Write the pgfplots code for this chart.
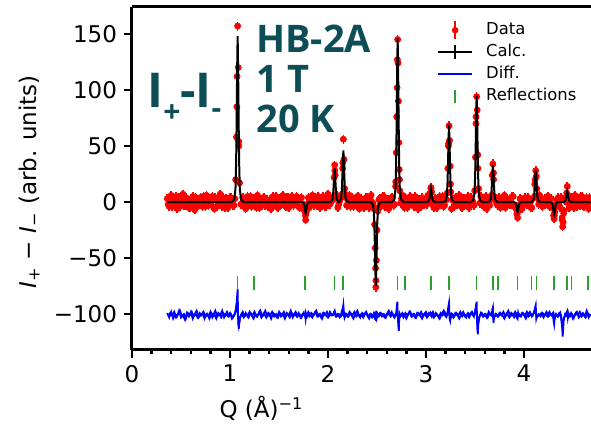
\documentclass[border=0pt]{standalone}
\usepackage{fontspec}
\setmainfont{DejaVu Sans}
\newfontfamily\titlefont{Open Sans}
\usepackage{pgfplots}
\pgfplotsset{compat=1.18}
\usepackage{pgfplotstable}
\definecolor{titleteal}{HTML}{0D4D56}
\definecolor{refgreen}{HTML}{2CA02C}

\pgfplotstableread{
Q obs diff
0.36 3 -99
0.38 -4 -103
0.40 6 -98
0.42 -2 -104
0.44 1 -100
0.46 -6 -102
0.48 4 -97
0.50 -1 -103
0.52 7 -101
0.54 -3 -105
0.56 0 -99
0.58 -5 -102
0.60 2 -98
0.62 5 -104
0.64 -7 -100
0.66 3 -97
0.68 -2 -103
0.70 4 -101
0.72 -4 -99
0.74 1 -104
0.76 6 -100
0.78 -3 -102
0.80 -1 -98
0.82 5 -103
0.84 -6 -100
0.86 2 -104
0.88 -2 -99
0.90 7 -101
0.92 -4 -97
0.94 0 -103
0.96 3 -100
0.98 -5 -102
1.00 4 -99
1.02 -1 -104
1.04 -3 -101
1.058 20 -98
1.066 58 -92
1.072 112 -85
1.078 157 -78
1.084 120 -108
1.090 54 -113
1.098 17 -104
1.12 -2 -100
1.14 2 -103
1.16 -6 -99
1.18 5 -102
1.20 1 -98
1.22 -4 -101
1.24 3 -104
1.26 -2 -100
1.28 6 -102
1.30 -5 -98
1.32 0 -103
1.34 4 -100
1.36 -3 -97
1.38 2 -102
1.40 -1 -100
1.42 -6 -104
1.44 5 -99
1.46 3 -101
1.48 -4 -103
1.50 1 -98
1.52 -2 -102
1.54 6 -100
1.56 -3 -104
1.58 4 -99
1.60 -5 -101
1.62 0 -97
1.64 2 -103
1.66 -1 -100
1.68 5 -102
1.70 -4 -99
1.72 3 -103
1.74 -6 -100
1.760 -3 -101
1.766 -9 -99
1.772 -16 -104
1.778 -10 -100
1.786 -2 -102
1.80 4 -98
1.82 -2 -101
1.84 6 -103
1.86 -3 -100
1.88 -1 -97
1.90 5 -102
1.92 -5 -100
1.94 2 -104
1.96 0 -99
1.98 -4 -101
2.00 7 -103
2.02 -2 -98
2.04 3 -101
2.056 4 -100
2.062 22 -98
2.068 33 -97
2.074 24 -101
2.080 6 -102
2.10 -5 -100
2.12 1 -103
2.145 7 -101
2.151 35 -96
2.157 56 -92
2.163 38 -99
2.169 8 -103
2.18 4 -100
2.20 -3 -102
2.22 6 -98
2.24 -1 -101
2.26 -4 -104
2.28 2 -100
2.30 5 -97
2.32 -6 -102
2.34 3 -100
2.36 -2 -103
2.38 0 -99
2.40 4 -101
2.42 -5 -104
2.44 6 -100
2.46 -1 -102
2.470 -6 -99
2.476 -20 -100
2.482 -41 -105
2.486 -59 -98
2.488 -76 -101
2.490 -70 -106
2.494 -52 -97
2.500 -25 -103
2.508 -8 -100
2.52 2 -102
2.54 -3 -99
2.56 5 -101
2.58 -4 -103
2.60 1 -100
2.62 -6 -97
2.64 3 -102
2.66 4 -100
2.68 -2 -103
2.691 18 -101
2.697 44 -98
2.701 76 -95
2.705 102 -91
2.708 127 -89
2.711 145 -99
2.715 124 -106
2.719 90 -112
2.723 53 -115
2.727 29 -104
2.733 10 -100
2.74 -1 -102
2.76 6 -99
2.78 -5 -101
2.80 2 -104
2.82 -3 -100
2.84 5 -98
2.86 0 -102
2.88 -4 -100
2.90 3 -103
2.92 -6 -99
2.94 1 -101
2.96 4 -104
2.98 -2 -100
3.00 -1 -98
3.02 6 -102
3.039 2 -100
3.045 8 -99
3.051 13 -101
3.057 9 -102
3.063 1 -100
3.08 -5 -103
3.10 2 -99
3.12 -3 -101
3.14 5 -104
3.16 0 -100
3.18 -4 -97
3.20 3 -102
3.217 8 -101
3.223 30 -97
3.229 50 -93
3.235 68 -90
3.241 55 -104
3.247 32 -106
3.253 9 -102
3.26 -6 -100
3.28 1 -103
3.30 4 -99
3.32 -2 -101
3.34 6 -104
3.36 -4 -100
3.38 3 -98
3.40 -1 -102
3.42 2 -100
3.44 -5 -103
3.46 4 -99
3.48 0 -101
3.497 10 -100
3.505 40 -96
3.511 76 -92
3.517 94 -89
3.523 82 -112
3.529 42 -118
3.537 12 -104
3.56 5 -99
3.58 -2 -102
3.60 1 -100
3.62 -6 -103
3.64 3 -98
3.66 2 -101
3.671 6 -101
3.677 24 -96
3.683 34 -94
3.689 26 -108
3.695 5 -103
3.72 -1 -100
3.74 4 -102
3.76 -5 -99
3.78 0 -101
3.80 6 -104
3.82 -3 -100
3.84 1 -97
3.86 -2 -102
3.88 5 -100
3.90 -4 -103
3.923 -4 -100
3.929 -10 -103
3.935 -14 -104
3.941 -8 -99
3.947 -3 -101
3.96 3 -102
3.98 -6 -99
4.00 2 -101
4.02 0 -104
4.04 4 -100
4.06 -1 -98
4.08 -5 -102
4.108 5 -98
4.114 20 -94
4.120 28 -92
4.126 23 -104
4.132 4 -102
4.16 6 -101
4.18 -3 -99
4.20 1 -103
4.22 -2 -100
4.24 5 -102
4.26 -4 -98
4.28 3 -101
4.296 -5 -99
4.302 -12 -106
4.308 -15 -109
4.314 -9 -103
4.320 -2 -100
4.34 2 -102
4.36 -3 -99
4.38 4 -101
4.390 -14 -112
4.395 -22 -120
4.400 -18 -114
4.405 -10 -105
4.42 1 -100
4.430 2 -101
4.436 8 -98
4.442 14 -97
4.448 6 -103
4.454 -1 -100
4.46 -5 -102
4.48 3 -99
4.50 -2 -104
4.52 6 -100
4.54 -4 -98
4.56 1 -103
4.58 5 -101
4.60 -3 -99
4.62 0 -102
4.64 4 -97
4.66 -6 -103
4.68 2 -100
}\obsdata

\pgfplotstableread{
Q obs diff
0.37 -2 -102
0.39 4 -99
0.41 -4 -101
0.43 2 -98
0.45 5 -103
0.47 -2 -100
0.49 -4 -97
0.51 2 -102
0.53 -3 -100
0.55 4 -104
0.57 1 -99
0.59 -5 -101
0.61 3 -98
0.63 -1 -102
0.65 4 -100
0.67 -4 -103
0.69 2 -99
0.71 -2 -101
0.73 5 -98
0.75 -4 -102
0.77 0 -100
0.79 3 -104
0.81 -3 -99
0.83 2 -101
0.85 4 -97
0.87 -4 -102
0.89 1 -100
0.91 -2 -103
0.93 4 -99
0.95 -5 -101
0.97 2 -98
0.99 -1 -102
1.01 4 -100
1.03 -3 -103
1.05 3 -100
1.07 85 -90
1.09 50 -110
1.11 -2 -101
1.13 4 -98
1.15 -1 -102
1.17 -4 -100
1.19 2 -103
1.21 5 -99
1.23 -2 -101
1.25 1 -98
1.27 -5 -102
1.29 3 -100
1.31 2 -97
1.33 -3 -102
1.35 4 -100
1.37 -1 -103
1.39 -4 -99
1.41 2 -101
1.43 1 -98
1.45 -2 -102
1.47 5 -100
1.49 -5 -103
1.51 3 -99
1.53 -1 -101
1.55 2 -98
1.57 -4 -102
1.59 4 -100
1.61 -2 -103
1.63 5 -99
1.65 -3 -101
1.67 0 -98
1.69 2 -102
1.71 -5 -100
1.73 4 -103
1.75 -3 -99
1.77 -12 -103
1.79 -4 -100
1.81 -5 -102
1.83 2 -99
1.85 -1 -101
1.87 4 -98
1.89 -3 -102
1.91 2 -100
1.93 -2 -103
1.95 5 -99
1.97 -4 -101
1.99 1 -98
2.01 -2 -102
2.03 3 -100
2.05 2 -101
2.07 28 -98
2.09 6 -102
2.11 -2 -100
2.13 4 -101
2.15 30 -95
2.17 12 -103
2.19 -3 -100
2.21 2 -102
2.23 -4 -99
2.25 4 -101
2.27 0 -98
2.29 -2 -102
2.31 5 -100
2.33 -2 -103
2.35 1 -99
2.37 -5 -101
2.39 4 -98
2.41 -1 -102
2.43 2 -100
2.45 -3 -103
2.47 -5 -100
2.51 -5 -101
2.53 3 -99
2.55 -2 -102
2.57 5 -100
2.59 -4 -103
2.61 2 -99
2.63 -1 -101
2.65 4 -98
2.67 -3 -102
2.69 14 -100
2.73 20 -102
2.75 3 -100
2.77 -2 -103
2.79 4 -99
2.81 -5 -101
2.83 1 -98
2.85 3 -102
2.87 -2 -100
2.89 5 -103
2.91 -3 -99
2.93 2 -101
2.95 -4 -98
2.97 2 -102
2.99 0 -100
3.01 -2 -103
3.03 4 -99
3.05 12 -101
3.07 -2 -98
3.09 3 -102
3.11 -5 -100
3.13 1 -103
3.15 -2 -99
3.17 5 -101
3.19 -3 -98
3.21 2 -102
3.23 52 -95
3.25 16 -104
3.27 2 -100
3.29 -4 -102
3.31 4 -99
3.33 -1 -101
3.35 2 -98
3.37 -5 -102
3.39 3 -100
3.41 -2 -103
3.43 5 -99
3.45 -2 -101
3.47 1 -98
3.49 -3 -102
3.51 70 -94
3.53 30 -110
3.55 -1 -101
3.57 2 -99
3.59 -4 -102
3.61 5 -100
3.63 -2 -103
3.65 -3 -99
3.67 4 -101
3.69 20 -104
3.71 2 -100
3.73 -3 -102
3.75 4 -99
3.77 -2 -101
3.79 2 -98
3.81 -5 -102
3.83 3 -100
3.85 0 -103
3.87 -2 -99
3.89 5 -101
3.91 -4 -98
3.93 -11 -103
3.95 -4 -100
3.97 2 -102
3.99 -3 -99
4.01 4 -101
4.03 -2 -98
4.05 1 -102
4.07 -5 -100
4.09 3 -101
4.11 16 -96
4.13 12 -103
4.15 -2 -100
4.17 2 -102
4.19 -4 -99
4.21 3 -101
4.23 -1 -98
4.25 5 -102
4.27 -4 -100
4.29 -4 -101
4.31 -12 -105
4.33 -3 -100
4.35 4 -102
4.37 -5 -99
4.39 -16 -110
4.41 -8 -103
4.43 1 -100
4.45 6 -99
4.47 -4 -102
4.49 4 -100
4.51 -5 -103
4.53 2 -99
4.55 3 -101
4.57 -3 -98
4.59 5 -102
4.61 -4 -100
4.63 2 -103
4.65 -2 -99
4.67 4 -101
}\obsdatab

\pgfplotstableread{
Q calc
0.36 0
1.018 0
1.043 2.2
1.056 11.8
1.063 37
1.068 74
1.073 118.4
1.078 148
1.083 118.4
1.088 74
1.093 37
1.100 11.8
1.113 2.2
1.138 0
1.712 0
1.737 -0.15
1.750 -0.8
1.757 -2.5
1.762 -5
1.767 -8
1.772 -10
1.777 -8
1.782 -5
1.787 -2.5
1.794 -0.8
1.807 -0.15
1.832 0
2.008 0
2.033 0.45
2.046 2.4
2.053 7.5
2.058 15
2.063 24
2.068 30
2.073 24
2.078 15
2.083 7.5
2.090 2.4
2.103 0.45
2.112 0
2.122 0.69
2.135 3.7
2.142 11.5
2.147 23
2.152 36.8
2.157 46
2.162 36.8
2.167 23
2.172 11.5
2.179 3.7
2.192 0.69
2.217 0
2.428 0
2.453 -1.1
2.466 -6
2.473 -18.8
2.478 -37.5
2.483 -60
2.488 -75
2.493 -60
2.498 -37.5
2.503 -18.8
2.510 -6
2.523 -1.1
2.548 0
2.651 0
2.676 2.2
2.689 11.7
2.696 36.5
2.701 73
2.706 116.8
2.711 146
2.716 116.8
2.721 73
2.726 36.5
2.733 11.7
2.746 2.2
2.771 0
2.991 0
3.016 0.18
3.029 1
3.036 3
3.041 6
3.046 9.6
3.051 12
3.056 9.6
3.061 6
3.066 3
3.073 1
3.086 0.18
3.111 0
3.175 0
3.200 1
3.213 5.5
3.220 17.3
3.225 34.5
3.230 55.2
3.235 69
3.240 55.2
3.245 34.5
3.250 17.3
3.257 5.5
3.270 1
3.295 0
3.457 0
3.482 1.4
3.495 7.6
3.502 23.8
3.507 47.5
3.512 76
3.517 95
3.522 76
3.527 47.5
3.532 23.8
3.539 7.6
3.552 1.4
3.577 0
3.623 0
3.648 0.5
3.661 2.6
3.668 8.3
3.673 16.5
3.678 26.4
3.683 33
3.688 26.4
3.693 16.5
3.698 8.3
3.705 2.6
3.718 0.5
3.743 0
3.875 0
3.900 -0.14
3.913 -0.7
3.920 -2.3
3.925 -4.5
3.930 -7.2
3.935 -9
3.940 -7.2
3.945 -4.5
3.950 -2.3
3.957 -0.7
3.970 -0.14
3.995 0
4.060 0
4.085 0.4
4.098 2.2
4.105 7
4.110 14
4.115 22.4
4.120 28
4.125 22.4
4.130 14
4.135 7
4.142 2.2
4.155 0.4
4.180 0
4.248 0
4.273 -0.2
4.286 -0.9
4.293 -2.8
4.298 -5.5
4.303 -8.8
4.308 -11
4.313 -8.8
4.318 -5.5
4.323 -2.8
4.330 -0.9
4.343 -0.2
4.368 0
4.382 0
4.407 0.15
4.420 0.8
4.427 2.5
4.432 5
4.437 8
4.442 10
4.447 8
4.452 5
4.457 2.5
4.464 0.8
4.477 0.15
4.502 0
4.68 0
}\calcdata

\pgfplotstableread{
Q y
1.078 -72
1.245 -72
1.765 -72
2.065 -72
2.156 -72
2.490 -72
2.711 -72
2.786 -72
3.051 -72
3.235 -72
3.517 -72
3.687 -72
3.738 -72
3.935 -72
4.078 -72
4.129 -72
4.306 -72
4.442 -72
4.486 -72
4.656 -72
}\refldata

\begin{document}
\begin{tikzpicture}
\useasboundingbox (0,0) rectangle (295.5pt,213pt);
\begin{axis}[
  at={(66pt,38pt)}, anchor=south west,
  scale only axis, width=229.5pt, height=171.5pt,
  xmin=0, xmax=4.684, ymin=-132, ymax=174,
  axis x line=box, axis y line=left,
  axis line style={-, line width=1.5pt, black},
  xtick pos=bottom, ytick pos=left,
  xtick={0,1,2,3,4}, minor x tick num=4,
  ytick={-100,-50,0,50,100,150},
  yticklabels={−100,−50,0,50,100,150},
  xticklabels={0,1,2,3,4},
  tick align=outside,
  major tick length=4pt, minor tick length=2.2pt,
  every tick/.style={line width=1.2pt, black},
  tick label style={font=\fontsize{11.5}{13}\selectfont},
  every axis y label/.style={at={(axis description cs:-0.224,0.49)}, rotate=90, anchor=center},
  every axis x label/.style={at={(axis description cs:0.282,0)}, yshift=-34pt, anchor=base},
  label style={font=\fontsize{11.5}{13}\selectfont},
  ylabel={\textit{I}\textsubscript{+} − \textit{I}\textsubscript{−} (arb. units)},
  xlabel={Q (Å)\textsuperscript{−1}},
  clip mode=individual,
  legend style={draw=none, fill=none, at={(axis cs:3.11,163)}, anchor=north west,
    font=\fontsize{8.2}{9.5}\selectfont, row sep=0.3pt, inner sep=0pt,
    nodes={inner sep=1.5pt}},
  legend cell align=left,
]
\addlegendimage{legend image code/.code={\path[draw=none] (0pt,0pt) -- (22.5pt,0pt); \draw[red,line width=0.9pt] (8.5pt,-4.5pt)--(8.5pt,4.5pt); \fill[red] (8.5pt,0pt) circle (1.4pt);}}
\addlegendentry{Data}
\addlegendimage{legend image code/.code={\path[draw=none] (0pt,0pt) -- (22.5pt,0pt); \draw[black,line width=1pt] (0pt,0pt)--(17pt,0pt); \draw[black,line width=1pt] (8.5pt,-3.5pt)--(8.5pt,3.5pt);}}
\addlegendentry{Calc.}
\addlegendimage{legend image code/.code={\path[draw=none] (0pt,0pt) -- (22.5pt,0pt); \draw[blue,line width=1pt] (0pt,0pt)--(17pt,0pt);}}
\addlegendentry{Diff.}
\addlegendimage{legend image code/.code={\path[draw=none] (0pt,0pt) -- (22.5pt,0pt); \draw[refgreen,line width=0.8pt] (8.5pt,-3.2pt)--(8.5pt,3.2pt);}}
\addlegendentry{Reflections}

\addplot[only marks, mark=|, mark size=3.4pt, color=refgreen, mark options={line width=0.8pt}, forget plot] table[x=Q,y=y] {\refldata};
\addplot[only marks, mark=*, mark size=1.5pt, red, forget plot,
  error bars/.cd, y dir=both, y fixed=4, error mark=none,
  error bar style={red, line width=0.8pt}] table[x=Q,y=obs] {\obsdata};
\addplot[only marks, mark=*, mark size=1.5pt, red, forget plot,
  error bars/.cd, y dir=both, y fixed=4, error mark=none,
  error bar style={red, line width=0.8pt}] table[x=Q,y=obs] {\obsdatab};
\addplot[black, line width=1pt, forget plot] table[x=Q,y=calc] {\calcdata};
\addplot[blue, line width=0.9pt, forget plot] table[x=Q,y=diff] {\obsdatab};
\addplot[blue, line width=0.9pt, forget plot] table[x=Q,y=diff] {\obsdata};

\node[anchor=base west, inner sep=0pt, text=titleteal, font=\titlefont\bfseries\fontsize{19}{20}\selectfont] at (axis cs:1.265,133) {HB-2A};
\node[anchor=base west, inner sep=0pt, text=titleteal, font=\titlefont\bfseries\fontsize{19}{20}\selectfont] at (axis cs:1.265,97.3) {1 T};
\node[anchor=base west, inner sep=0pt, text=titleteal, font=\titlefont\bfseries\fontsize{19}{20}\selectfont] at (axis cs:1.265,61.6) {20 K};
\node[anchor=base west, inner sep=0pt, text=titleteal, font=\titlefont\bfseries\fontsize{24}{26}\selectfont] at (axis cs:0.153,84) {I\raisebox{-7.3pt}{\fontsize{15}{15}\selectfont +}-I\raisebox{-5.3pt}{\fontsize{15}{15}\selectfont -}};
\end{axis}
\end{tikzpicture}
\end{document}
